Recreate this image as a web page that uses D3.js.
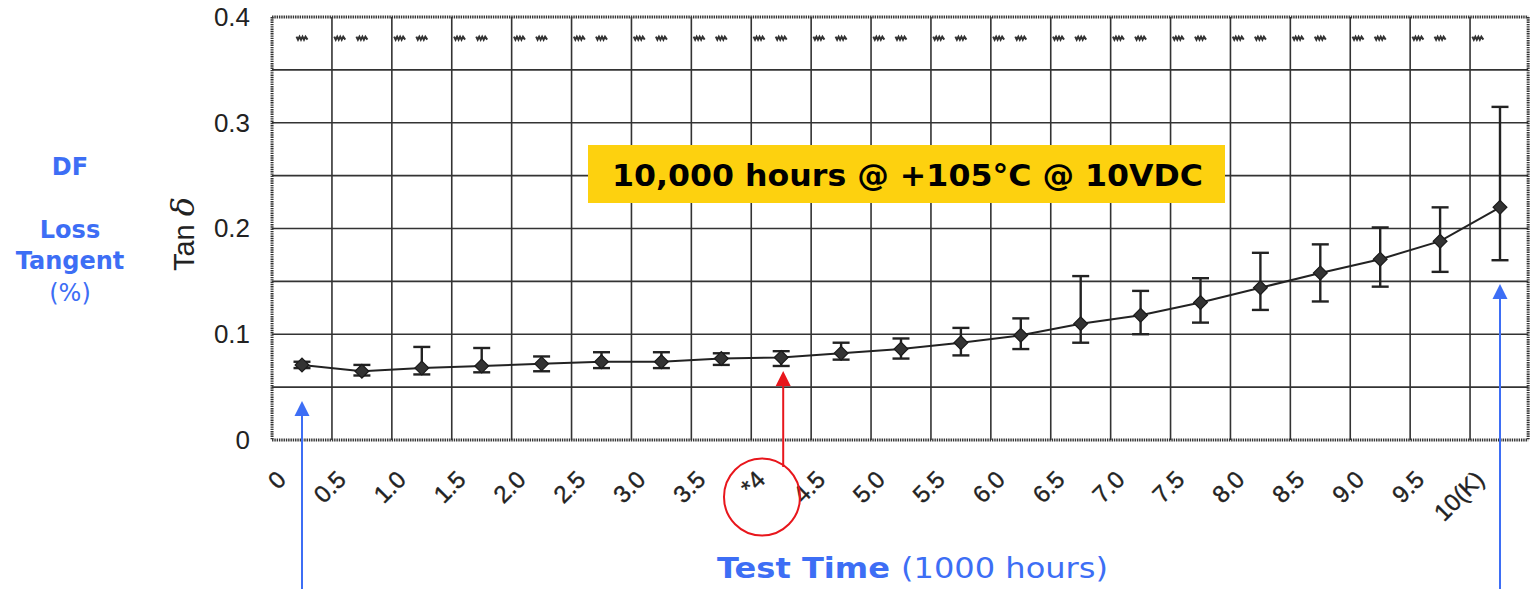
<!DOCTYPE html>
<html><head><meta charset="utf-8">
<script src="https://cdn.jsdelivr.net/npm/d3@7"></script>
<style>
html,body{margin:0;padding:0;background:#fff;}
svg{display:block;}
</style></head>
<body>
<svg id="chart" width="1532" height="589"></svg>
<script>
// ---- data ----
const times = [0,0.5,1,1.5,2,2.5,3,3.5,4,4.5,5,5.5,6,6.5,7,7.5,8,8.5,9,9.5,10];
const tickLabels = ["0","0.5","1.0","1.5","2.0","2.5","3.0","3.5","*4","4.5","5.0","5.5","6.0","6.5","7.0","7.5","8.0","8.5","9.0","9.5","10(K)"];
const meanTan = [0.071,0.065,0.068,0.070,0.072,0.074,0.074,0.077,0.078,0.082,0.086,0.092,0.099,0.110,0.118,0.130,0.144,0.158,0.171,0.188,0.220];
const upperTan = [0.074,0.071,0.088,0.087,0.079,0.083,0.083,0.082,0.084,0.092,0.096,0.106,0.115,0.155,0.141,0.153,0.177,0.185,0.201,0.220,0.315];
const lowerTan = [0.068,0.061,0.062,0.064,0.065,0.068,0.068,0.071,0.070,0.076,0.077,0.080,0.086,0.092,0.100,0.111,0.123,0.131,0.145,0.159,0.170];
const yTicks = [0,0.1,0.2,0.3,0.4];
const yGrid = [0.05,0.1,0.15,0.2,0.25,0.3,0.35];
const topMarkTimes = [0,0.315,0.5,0.815,1,1.315,1.5,1.815,2,2.315,2.5,2.815,3,3.315,3.5,3.815,4,4.315,4.5,4.815,5,5.315,5.5,5.815,6,6.315,6.5,6.815,7,7.315,7.5,7.815,8,8.315,8.5,8.815,9,9.315,9.5,9.815];
const topMarkValue = 0.38;
const boxText = "10,000 hours @ +105°C @ 10VDC";

// ---- layout ----
const svg = d3.select("#chart");
const x = d3.scaleLinear().domain([0,10]).range([302,1500]);
const y = d3.scaleLinear().domain([0,0.4]).range([440,17]);
const half = 0.25;
const xLeft = x(-half), xRight = x(10 + 0.235);
const ink = "#222";
const blue = "#3d6ef5", red = "#e8161c", yellow = "#fdd10f";

// grid
const g = svg.append("g");
g.selectAll("line.v").data(times.slice(1)).enter().append("line")
  .attr("x1", d=>x(d-half)).attr("x2", d=>x(d-half))
  .attr("y1", y(0.4)).attr("y2", y(0))
  .attr("stroke", "#333").attr("stroke-width", 1.6);
g.selectAll("line.h").data(yGrid).enter().append("line")
  .attr("x1", xLeft).attr("x2", xRight)
  .attr("y1", d=>y(d)).attr("y2", d=>y(d))
  .attr("stroke", "#333").attr("stroke-width", 1.6);

// dotted frame
const frame = [
  [xLeft, y(0.4), xRight, y(0.4)],
  [xLeft, y(0), xRight, y(0)],
  [xLeft, y(0.4), xLeft, y(0)],
  [xRight, y(0.4), xRight, y(0)]
];
g.selectAll("line.f").data(frame).enter().append("line")
  .attr("x1", d=>d[0]).attr("y1", d=>d[1]).attr("x2", d=>d[2]).attr("y2", d=>d[3])
  .attr("stroke", "#333").attr("stroke-width", 3).attr("stroke-dasharray", "1.4,0.9");

// top marks
g.selectAll("path.tm").data(topMarkTimes).enter().append("path")
  .attr("transform", d=>`translate(${x(d)},${y(topMarkValue)})`)
  .attr("d", "M-5.5,-1.5 L-4,1.5 L-2.5,-1.5 L-1,1.5 L0.5,-1.5 L2,1.5 L3.5,-1.5 L5.5,1.5")
  .attr("fill", "none").attr("stroke", "#333").attr("stroke-width", 2);

// y axis
const yAxis = d3.axisLeft(y).tickValues(yTicks).tickFormat(d=>d===0?"0":d3.format(".1f")(d)).tickSize(0).tickPadding(22);
const ya = svg.append("g").attr("transform", `translate(${xLeft},0)`).call(yAxis);
ya.select(".domain").remove();
ya.selectAll("text").attr("font-family","'Liberation Sans', Arial, sans-serif").attr("font-size",26).attr("fill",ink);

// x axis (labels sit on the grid lines)
const xAxis = d3.axisBottom(x).tickValues(times.map(t=>t-half)).tickFormat((d,i)=>tickLabels[i]).tickSize(0);
const xa = svg.append("g").attr("transform", `translate(0,${y(0)})`).call(xAxis);
xa.select(".domain").remove();
xa.selectAll("text")
  .attr("font-family","'Liberation Sans', Arial, sans-serif").attr("font-size",24).attr("fill",ink)
  .attr("stroke",ink).attr("stroke-width",0.4)
  .attr("text-anchor","end").attr("dy",null).attr("y",null)
  .attr("transform","translate(15,41) rotate(-45)");

// Tan δ label
const tl = svg.append("text").attr("transform","translate(194,234) rotate(-90)")
  .attr("text-anchor","middle").attr("font-family","'Liberation Sans', Arial, sans-serif")
  .attr("font-size",29).attr("fill",ink);
tl.append("tspan").text("Tan ");
tl.append("tspan").attr("font-style","italic").attr("font-family","'DejaVu Serif', serif").attr("font-size",32).text("δ");

// line + error bars + diamonds
const pts = times.map((t,i)=>({t, m:meanTan[i], hi:upperTan[i], lo:lowerTan[i]}));
svg.append("path").datum(pts)
  .attr("d", d3.line().x(d=>x(d.t)).y(d=>y(d.m)))
  .attr("fill","none").attr("stroke",ink).attr("stroke-width",2);
const eb = svg.append("g").attr("stroke",ink).attr("stroke-width",2.4);
eb.selectAll("line.s").data(pts).enter().append("line")
  .attr("x1",d=>x(d.t)).attr("x2",d=>x(d.t)).attr("y1",d=>y(d.hi)).attr("y2",d=>y(d.lo));
eb.selectAll("line.u").data(pts).enter().append("line")
  .attr("x1",d=>x(d.t)-8.5).attr("x2",d=>x(d.t)+8.5).attr("y1",d=>y(d.hi)).attr("y2",d=>y(d.hi));
eb.selectAll("line.l").data(pts).enter().append("line")
  .attr("x1",d=>x(d.t)-8.5).attr("x2",d=>x(d.t)+8.5).attr("y1",d=>y(d.lo)).attr("y2",d=>y(d.lo));
svg.selectAll("path.dm").data(pts).enter().append("path")
  .attr("d", d3.symbol().type(d3.symbolSquare).size(95))
  .attr("transform", d=>`translate(${x(d.t)},${y(d.m)}) rotate(45)`)
  .attr("fill","#333").attr("stroke","#1a1a1a").attr("stroke-width",1.2);

// yellow annotation box
svg.append("rect").attr("x",588).attr("y",145).attr("width",637).attr("height",58).attr("fill",yellow);
svg.append("text").attr("x",907.5).attr("y",186).attr("text-anchor","middle")
  .attr("font-family","'DejaVu Sans', Verdana, sans-serif").attr("font-weight","bold")
  .attr("font-size",30).attr("fill","#000")
  .attr("textLength",591).attr("lengthAdjust","spacingAndGlyphs").text(boxText);

// left blue labels
const lab = svg.append("g").attr("font-family","'DejaVu Sans', Verdana, sans-serif").attr("fill",blue).attr("text-anchor","middle").attr("font-size",24);
lab.append("text").attr("x",70).attr("y",175).attr("font-weight","bold").text("DF");
lab.append("text").attr("x",70).attr("y",238).attr("font-weight","bold").text("Loss");
lab.append("text").attr("x",70).attr("y",269).attr("font-weight","bold").text("Tangent");
lab.append("text").attr("x",70).attr("y",301).text("(%)");

// x title
const xt = svg.append("text").attr("x",717).attr("y",578)
  .attr("font-family","'DejaVu Sans', Verdana, sans-serif").attr("font-size",29).attr("fill",blue)
  .attr("textLength",391).attr("lengthAdjust","spacingAndGlyphs");
xt.append("tspan").attr("font-weight","bold").text("Test Time ");
xt.append("tspan").text("(1000 hours)");

// arrows
function arrow(xp, yTip, yTail, color, dir){
  svg.append("line").attr("x1",xp).attr("x2",xp).attr("y1",yTail).attr("y2",yTip - dir*10)
    .attr("stroke",color).attr("stroke-width",2);
  svg.append("path").attr("d",`M${xp},${yTip} L${xp-7.5},${yTip-dir*15} L${xp+7.5},${yTip-dir*15} Z`).attr("fill",color);
}
arrow(x(0), 401, 589, blue, -1);
arrow(x(10), 284, 589, blue, -1);
arrow(x(4)+2, 371, 467, red, -1);
svg.append("ellipse").attr("cx",762).attr("cy",497).attr("rx",38).attr("ry",38.5)
  .attr("fill","none").attr("stroke",red).attr("stroke-width",2);
</script>
</body></html>
